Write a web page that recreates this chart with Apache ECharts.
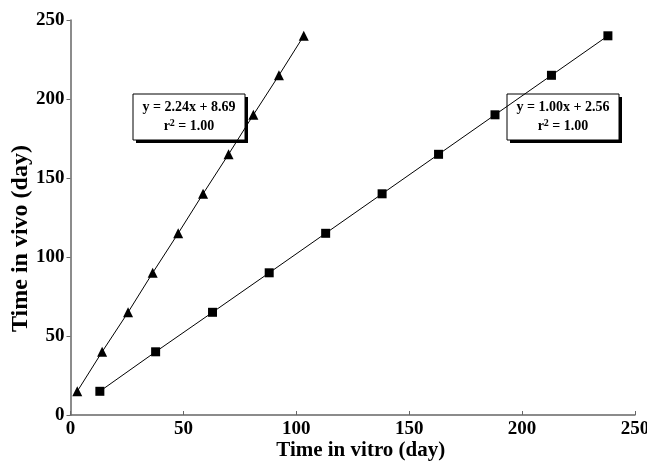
<!DOCTYPE html>
<html><head><meta charset="utf-8">
<script src="https://cdn.jsdelivr.net/npm/echarts@6/dist/echarts.min.js"></script>
<style>html,body{margin:0;padding:0;background:#fff}#c{width:647px;height:463px}</style>
</head><body><div id="c"></div>
<script>
var triX = [3, 14, 25.5, 36.4, 47.7, 58.7, 70, 81, 92.3, 103.3];
var triY = [15, 40, 65, 90, 115, 140, 165, 190, 215, 240];
var sqX = [13, 37.7, 62.9, 88, 113, 138, 163, 188, 213, 238];
var sqY = [15, 40, 65, 90, 115, 140, 165, 190, 215, 240];
var eq1 = ['y = 2.24x + 8.69', '1.00'];
var eq2 = ['y = 1.00x + 2.56', '1.00'];
var xTicks = [0, 50, 100, 150, 200, 250];
var yTicks = [0, 50, 100, 150, 200, 250];

function pairs(xs, ys){ return xs.map(function(x,i){return [x, ys[i]];}); }
var font = 'Liberation Serif';
var chart = echarts.init(document.getElementById('c'));

function box(left, top, w, h, lines){
  return {
    type: 'group', x: left, y: top,
    children: [
      {type:'rect', shape:{x:3,y:3,width:w,height:h}, style:{fill:'#000'}},
      {type:'rect', shape:{x:0,y:0,width:w,height:h}, style:{fill:'#fff', stroke:'#000', lineWidth:1}},
      {type:'text', x:w/2, y:6, style:{text: lines[0], fontFamily: font, fontWeight:'bold', fontSize:14, fill:'#000', align:'center'}},
      {type:'text', x:w/2, y:24, style:{
        text: 'r{s|2} = ' + lines[1], align:'center',
        fontFamily: font, fontWeight:'bold', fontSize:14, fill:'#000',
        rich:{s:{fontSize:10, fontWeight:'bold', fontFamily:font, verticalAlign:'top', padding:[0,0,6,0]}}
      }}
    ]
  };
}

chart.setOption({
  animation: false,
  grid: {left: 70.5, right: 12, top: 20, bottom: 48, containLabel: false, outerBoundsMode: 'none'},
  xAxis: {
    type: 'value', min: 0, max: 250, interval: 50,
    name: 'Time in vitro (day)', nameLocation: 'middle', nameGap: 25, nameMoveOverlap: false,
    nameTextStyle: {fontFamily: font, fontWeight: 'bold', fontSize: 21, color: '#000', padding: [0, 0, 0, 16]},
    axisLine: {show: true, lineStyle: {color: '#666', width: 1.5}},
    axisTick: {show: true, inside: true, length: 4, lineStyle: {color: '#666'}},
    axisLabel: {fontFamily: font, fontWeight: 'bold', fontSize: 19, color: '#000', margin: 5,
      formatter: function(v){ return xTicks.indexOf(v) >= 0 ? String(v) : ''; }},
    splitLine: {show: false}
  },
  yAxis: {
    type: 'value', min: 0, max: 250, interval: 50,
    name: 'Time in vivo (day)', nameLocation: 'middle', nameGap: 38, nameRotate: 90, nameMoveOverlap: false,
    nameTextStyle: {fontFamily: font, fontWeight: 'bold', fontSize: 24, color: '#000', padding: [0, 42, 0, 0]},
    axisLine: {show: true, lineStyle: {color: '#666', width: 1.5}},
    axisTick: {show: true, inside: false, length: 4, lineStyle: {color: '#666'}},
    axisLabel: {fontFamily: font, fontWeight: 'bold', fontSize: 19, color: '#000', margin: 6,
      formatter: function(v){ return yTicks.indexOf(v) >= 0 ? String(v) : ''; }},
    splitLine: {show: false}
  },
  series: [
    {type: 'line', data: pairs(triX, triY), symbol: 'triangle', symbolSize: 10,
     itemStyle: {color: '#000'}, lineStyle: {color: '#000', width: 1}},
    {type: 'line', data: pairs(sqX, sqY), symbol: 'rect', symbolSize: 9,
     itemStyle: {color: '#000'}, lineStyle: {color: '#000', width: 1}}
  ],
  graphic: [
    box(133, 94, 112, 46, eq1),
    box(507, 94, 112, 46, eq2)
  ]
});
</script></body></html>
